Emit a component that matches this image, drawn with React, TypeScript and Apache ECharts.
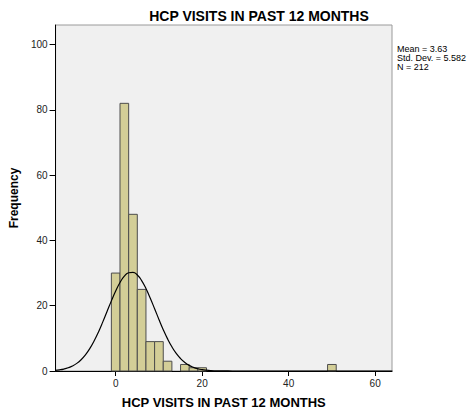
import React, { useEffect, useRef } from "react";
import * as echarts from "echarts";

const TITLE = "HCP VISITS IN PAST 12 MONTHS";
const X_NAME = "HCP VISITS IN PAST 12 MONTHS";
const Y_NAME = "Frequency";
const STATS = ["Mean = 3.63", "Std. Dev. = 5.582", "N = 212"];

const binWidth = 2;
const binCenters = [0, 2, 4, 6, 8, 10, 12, 16, 18, 20, 50];
const binCounts = [30, 82, 48, 25, 9, 9, 3, 2, 1, 1, 2];

const xTicks = [0, 20, 40, 60];
const yTicks = [0, 20, 40, 60, 80, 100];

const curveX = [
  -14, -13, -12, -11, -10, -9, -8, -7, -6, -5, -4, -3, -2, -1, 0, 1, 2, 3, 4, 5,
  6, 7, 8, 9, 10, 11, 12, 13, 14, 15, 16, 17, 18, 19, 20, 21, 22, 23, 24, 25,
  26, 28, 35, 45, 55, 64,
];
const curveY = [
  0.21, 0.36, 0.6, 0.98, 1.54, 2.34, 3.46, 4.94, 6.84, 9.17, 11.9, 14.97, 18.22,
  21.48, 24.52, 27.12, 29.04, 30.11, 30.23, 29.4, 27.69, 25.25, 22.3, 19.08,
  15.8, 12.67, 9.84, 7.41, 5.39, 3.81, 2.6, 1.72, 1.1, 0.68, 0.41, 0.24, 0.13,
  0.07, 0.04, 0.02, 0.01, 0, 0, 0, 0, 0,
];

const FONT = "'Liberation Sans', Arial, sans-serif";

export default function App() {
  const ref = useRef<HTMLDivElement>(null);
  useEffect(() => {
    document.body.style.margin = "0";
    if (!ref.current) return;
    const chart = echarts.init(ref.current, null, { renderer: "svg" });
    const bars = binCenters.map((c, i) => [c - binWidth / 2, c + binWidth / 2, binCounts[i]]);
    chart.setOption({
      animation: false,
      backgroundColor: "#ffffff",
      textStyle: { fontFamily: FONT },
      grid: {
        left: 50,
        right: 78,
        top: 25,
        bottom: 43,
        show: true,
        backgroundColor: "#f0f0f0",
        borderColor: "#9a9a9a",
        borderWidth: 1,
      },
      graphic: [
        {
          type: "text",
          x: 259,
          y: 16,
          style: {
            text: TITLE,
            font: `bold 14px ${FONT}`,
            fill: "#000",
            align: "center",
            verticalAlign: "middle",
          },
        },
        {
          type: "text",
          x: 397,
          y: 44,
          style: {
            text: STATS.join("\n"),
            font: `9px ${FONT}`,
            lineHeight: 9,
            fill: "#000",
            align: "left",
            verticalAlign: "top",
          },
        },
      ],
      xAxis: {
        type: "value",
        position: "bottom",
        min: -13.9,
        max: 63.9,
        name: X_NAME,
        nameLocation: "middle",
        nameGap: 25,
        nameTextStyle: { fontFamily: FONT, fontWeight: "bold", fontSize: 13, color: "#000" },
        splitLine: { show: false },
        axisLine: { show: true, onZero: false, lineStyle: { color: "#000", width: 1 } },
        axisTick: { show: true, inside: false, length: 5, customValues: xTicks, lineStyle: { color: "#000" } },
        axisLabel: { customValues: xTicks, inside: false, fontSize: 10, color: "#222", margin: 7, fontFamily: FONT },
      },
      yAxis: {
        type: "value",
        position: "left",
        min: 0,
        max: 106,
        name: Y_NAME,
        nameLocation: "middle",
        nameGap: 34,
        nameTextStyle: { fontFamily: FONT, fontWeight: "bold", fontSize: 12, color: "#000" },
        splitLine: { show: false },
        axisLine: { show: true, onZero: false, lineStyle: { color: "#000", width: 1 } },
        axisTick: { show: true, inside: false, length: 6, customValues: yTicks, lineStyle: { color: "#000" } },
        axisLabel: { customValues: yTicks, inside: false, fontSize: 10, color: "#222", margin: 8, fontFamily: FONT },
      },
      series: [
        {
          type: "custom",
          data: bars,
          renderItem: (params: any, api: any) => {
            const x0 = api.value(0);
            const x1 = api.value(1);
            const y = api.value(2);
            const p0 = api.coord([x0, y]);
            const p1 = api.coord([x1, 0]);
            return {
              type: "rect",
              shape: { x: p0[0], y: p0[1], width: p1[0] - p0[0], height: p1[1] - p0[1] },
              style: { fill: "#d3ce97", stroke: "#4d4d4d", lineWidth: 1 },
            };
          },
          encode: { x: [0, 1], y: 2 },
          z: 2,
        },
        {
          type: "line",
          data: curveX.map((x, i) => [x, curveY[i]]),
          showSymbol: false,
          smooth: true,
          lineStyle: { color: "#000", width: 1.2 },
          clip: true,
          z: 3,
        },
      ],
    });
    return () => chart.dispose();
  }, []);
  return <div ref={ref} style={{ width: 470, height: 414 }} />;
}
